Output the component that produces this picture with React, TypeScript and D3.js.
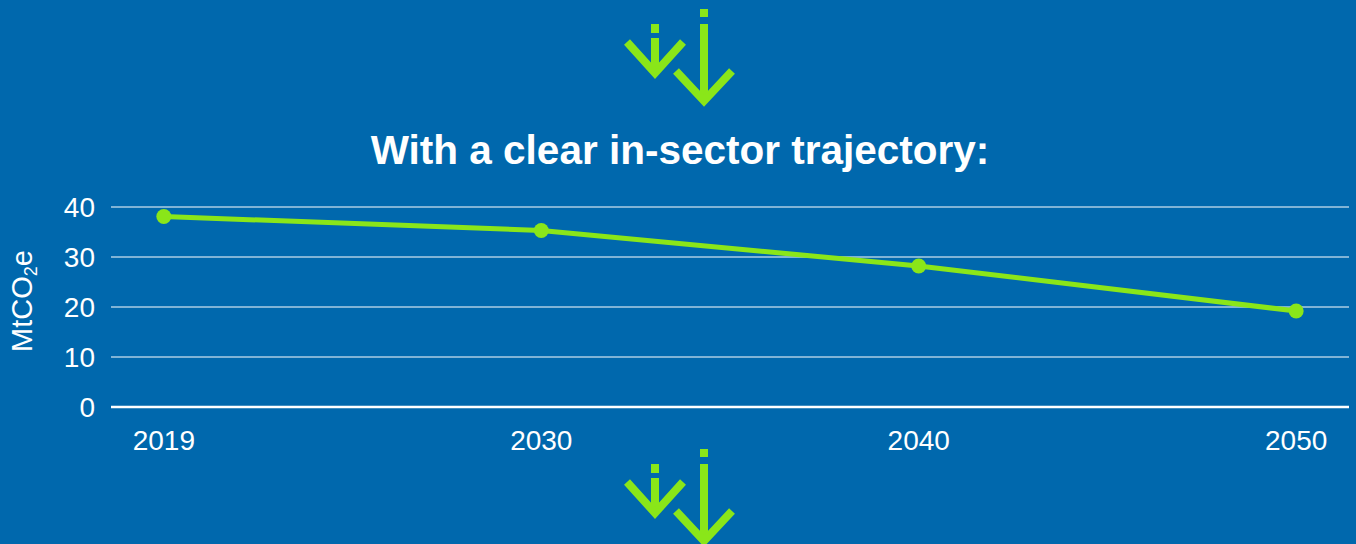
import React, { useEffect, useRef } from 'react';
import * as d3 from 'd3';

// chart data
const years: string[] = ['2019', '2030', '2040', '2050'];
const emissions: number[] = [38.1, 35.3, 28.2, 19.2];
const yTicks: number[] = [0, 10, 20, 30, 40];

const BG = '#0068ad';
const GREEN = '#8ae619';
const FONT = '"Liberation Sans", Arial, Helvetica, sans-serif';

const App: React.FC = () => {
    const svgRef = useRef<SVGSVGElement>(null);

    useEffect(() => {
        if (!svgRef.current) return;

        const width = 1356;
        const height = 544;
        const plot = { left: 111, right: 1349, top: 207, bottom: 407 };

        const svg = d3.select(svgRef.current);
        svg.selectAll('*').remove();
        svg.attr('width', width).attr('height', height);

        svg.append('rect')
            .attr('width', width)
            .attr('height', height)
            .attr('fill', BG);

        // Scales
        const x = d3.scalePoint<string>()
            .domain(years)
            .range([plot.left, plot.right])
            .padding(0.14);

        const y = d3.scaleLinear()
            .domain([0, 40])
            .range([plot.bottom, plot.top]);

        // Title
        svg.append('text')
            .attr('x', 680)
            .attr('y', 164)
            .attr('text-anchor', 'middle')
            .attr('fill', '#fff')
            .attr('font-family', FONT)
            .attr('font-weight', 'bold')
            .attr('font-size', 40.5)
            .text('With a clear in-sector trajectory:');

        // Grid lines
        svg.append('g')
            .selectAll('line')
            .data(yTicks)
            .enter()
            .append('line')
            .attr('x1', plot.left)
            .attr('x2', plot.right)
            .attr('y1', d => y(d))
            .attr('y2', d => y(d))
            .attr('stroke', '#fff')
            .attr('stroke-width', d => (d === 0 ? 2.5 : 1));

        // Y tick labels
        svg.append('g')
            .selectAll('text')
            .data(yTicks)
            .enter()
            .append('text')
            .attr('x', 95)
            .attr('y', d => y(d) + 10)
            .attr('text-anchor', 'end')
            .attr('fill', '#fff')
            .attr('font-family', FONT)
            .attr('font-size', 28)
            .text(d => d);

        // X tick labels
        svg.append('g')
            .selectAll('text')
            .data(years)
            .enter()
            .append('text')
            .attr('x', d => x(d) as number)
            .attr('y', 450)
            .attr('text-anchor', 'middle')
            .attr('fill', '#fff')
            .attr('font-family', FONT)
            .attr('font-size', 28)
            .text(d => d);

        // Y axis title
        const yTitle = svg.append('text')
            .attr('transform', `translate(32, 301) rotate(-90)`)
            .attr('text-anchor', 'middle')
            .attr('fill', '#fff')
            .attr('font-family', FONT)
            .attr('font-size', 29);
        yTitle.append('tspan').text('MtCO');
        yTitle.append('tspan').attr('font-size', 18).attr('dy', 5).text('2');
        yTitle.append('tspan').attr('dy', -5).text('e');

        // Line
        const line = d3.line<number>()
            .x((_, i) => x(years[i]) as number)
            .y(d => y(d));

        svg.append('path')
            .datum(emissions)
            .attr('d', line)
            .attr('fill', 'none')
            .attr('stroke', GREEN)
            .attr('stroke-width', 5);

        svg.append('g')
            .selectAll('circle')
            .data(emissions)
            .enter()
            .append('circle')
            .attr('cx', (_, i) => x(years[i]) as number)
            .attr('cy', d => y(d))
            .attr('r', 7.5)
            .attr('fill', GREEN);

        // Decorative arrow icons (top and bottom)
        const drawArrows = (offsetY: number) => {
            const g = svg.append('g').attr('transform', `translate(0, ${offsetY})`);
            // small arrow
            g.append('rect').attr('x', 651).attr('y', 24).attr('width', 8).attr('height', 9).attr('fill', GREEN);
            g.append('line').attr('x1', 655).attr('x2', 655).attr('y1', 38).attr('y2', 74)
                .attr('stroke', GREEN).attr('stroke-width', 8);
            g.append('path').attr('d', 'M627,42 L655,73 L683,42')
                .attr('fill', 'none').attr('stroke', GREEN).attr('stroke-width', 8);
            // large arrow
            g.append('rect').attr('x', 700).attr('y', 9).attr('width', 8).attr('height', 8).attr('fill', GREEN);
            g.append('line').attr('x1', 704).attr('x2', 704).attr('y1', 24).attr('y2', 102)
                .attr('stroke', GREEN).attr('stroke-width', 8);
            g.append('path').attr('d', 'M676,71 L704,101 L732,71')
                .attr('fill', 'none').attr('stroke', GREEN).attr('stroke-width', 8);
        };
        drawArrows(0);
        drawArrows(440);
    }, []);

    return (
        <svg
            ref={svgRef}
            style={{ position: 'absolute', left: 0, top: 0, display: 'block' }}
        />
    );
};

export default App;
